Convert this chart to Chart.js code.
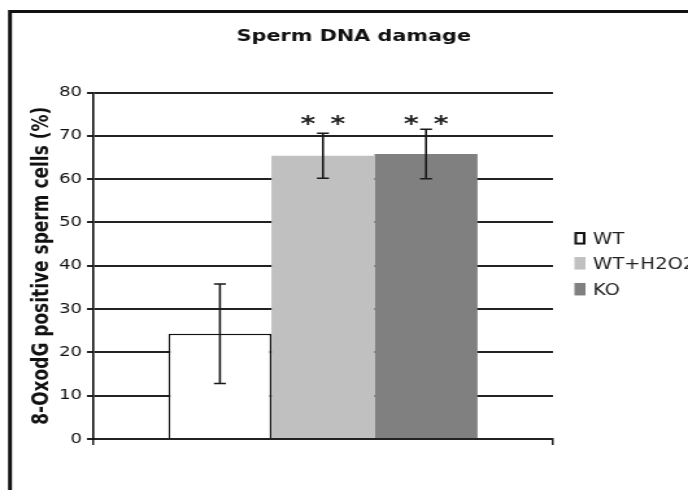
<!DOCTYPE html>
<html>
<head>
<meta charset="utf-8">
<script src="https://cdn.jsdelivr.net/npm/chart.js@4/dist/chart.umd.min.js"></script>
<style>
  html, body { margin: 0; padding: 0; background: #fff; overflow: hidden; }
  #wrap { width: 688px; height: 490px; overflow: hidden; position: relative; }
  /* the chart is laid out narrow and widened horizontally */
  #chart { position: absolute; left: 0; top: 0; transform-origin: 0 0; }
</style>
</head>
<body>
<div id="wrap"><canvas id="chart" width="530" height="490"></canvas></div>
<script>
// Sperm DNA damage: 8-OxodG positive sperm cells per group (mean ± error)
const chartTitle = 'Sperm DNA damage';
const yAxisTitle = '8-OxodG positive sperm cells (%)';
const groups = ['WT', 'WT+H2O2', 'KO'];
const meanValues = [24.3, 65.4, 65.8];
const errorValues = [11.5, 5.2, 5.7];
const significance = ['', '**', '**'];
const groupColors = ['#ffffff', '#c0c0c0', '#808080'];
const groupBorders = ['#111111', '#c0c0c0', '#808080'];
const yMin = 0, yMax = 80, yStep = 10;

const STRETCH = 688 / 530;
document.getElementById('chart').style.transform = 'scaleX(' + STRETCH + ')';

const datasets = groups.map((g, i) => ({
  label: g,
  data: [meanValues[i]],
  backgroundColor: groupColors[i],
  borderColor: groupBorders[i],
  borderWidth: i === 0 ? 1.5 : 0,
  barPercentage: 1.0,
  categoryPercentage: 0.672
}));

const decorations = {
  id: 'decorations',
  afterDatasetsDraw(chart) {
    const ctx = chart.ctx;
    const y = chart.scales.y;
    ctx.save();
    // error bars
    ctx.strokeStyle = '#1a1a1a';
    ctx.lineWidth = 1.6;
    groups.forEach((g, i) => {
      const bar = chart.getDatasetMeta(i).data[0];
      const x = bar.x;
      const top = y.getPixelForValue(meanValues[i] + errorValues[i]);
      const bot = y.getPixelForValue(meanValues[i] - errorValues[i]);
      const cap = 4.6;
      ctx.beginPath();
      ctx.moveTo(x, top); ctx.lineTo(x, bot);
      ctx.moveTo(x - cap, top); ctx.lineTo(x + cap, top);
      ctx.moveTo(x - cap, bot); ctx.lineTo(x + cap, bot);
      ctx.stroke();
    });
    // significance marks
    ctx.fillStyle = '#222';
    ctx.font = 'bold 22px "DejaVu Sans"';
    ctx.textAlign = 'center';
    ctx.textBaseline = 'alphabetic';
    groups.forEach((g, i) => {
      const marks = significance[i];
      if (!marks) return;
      const bar = chart.getDatasetMeta(i).data[0];
      const n = marks.length;
      const gap = 23;
      for (let k = 0; k < n; k++) {
        const cx = bar.x + (k - (n - 1) / 2) * gap;
        ctx.fillText(marks[k], cx, 131);
      }
    });
    ctx.restore();
  },
  afterDraw(chart) {
    const ctx = chart.ctx;
    ctx.save();
    // outer frame
    ctx.strokeStyle = '#111';
    ctx.lineWidth = 3;
    ctx.strokeRect(7.7, 11.5, chart.width + 20, chart.height + 20);
    // title
    ctx.fillStyle = '#111';
    ctx.font = 'bold 16px "DejaVu Sans"';
    ctx.textAlign = 'center';
    ctx.textBaseline = 'alphabetic';
    ctx.fillText(chartTitle, 272.5, 40.5);
    // legend
    ctx.font = '15px "DejaVu Sans"';
    ctx.textAlign = 'left';
    const rows = [238.3, 263.3, 289.2];
    groups.forEach((g, i) => {
      const cy = rows[i];
      const bx = 442.5, bw = 8.5, bh = 12.5;
      if (i === 0) {
        ctx.fillStyle = '#fff';
        ctx.fillRect(bx, cy - bh / 2, bw, bh);
        ctx.strokeStyle = '#111';
        ctx.lineWidth = 2;
        ctx.strokeRect(bx + 1, cy - bh / 2 + 1, bw - 2, bh - 2);
      } else {
        ctx.fillStyle = groupColors[i];
        ctx.fillRect(bx, cy - bh / 2, bw, bh);
      }
      ctx.fillStyle = '#222';
      ctx.fillText(g, 456.8, cy + 5.5);
    });
    ctx.restore();
  }
};

new Chart(document.getElementById('chart'), {
  type: 'bar',
  data: { labels: [''], datasets },
  options: {
    responsive: false,
    animation: false,
    devicePixelRatio: 1,
    layout: { padding: { top: 92.5, right: 104, bottom: 45, left: 8 } },
    plugins: {
      legend: { display: false },
      title: { display: false },
      tooltip: { enabled: false }
    },
    scales: {
      x: {
        ticks: { display: false },
        grid: { display: true, drawOnChartArea: false, drawTicks: true, tickLength: 6, color: '#222', lineWidth: 1.5 },
        border: { display: true, color: '#222', width: 2 },
        afterFit(scale) { scale.height = 6; }
      },
      y: {
        min: yMin,
        max: yMax,
        ticks: {
          stepSize: yStep,
          padding: 3.8,
          color: '#111',
          font: { family: '"DejaVu Sans"', size: 14 }
        },
        grid: { color: '#222', lineWidth: 2, tickLength: 4.6, drawTicks: true },
        border: { display: true, color: '#111', width: 1.6 },
        title: {
          display: true,
          text: yAxisTitle,
          color: '#111',
          font: { family: '"DejaVu Sans"', size: 17, weight: 'bold' },
          padding: { top: 14.2, bottom: 0 }
        },
        afterFit(scale) { scale.width = 71.6 - 8; }
      }
    }
  },
  plugins: [decorations]
});
</script>
</body>
</html>
